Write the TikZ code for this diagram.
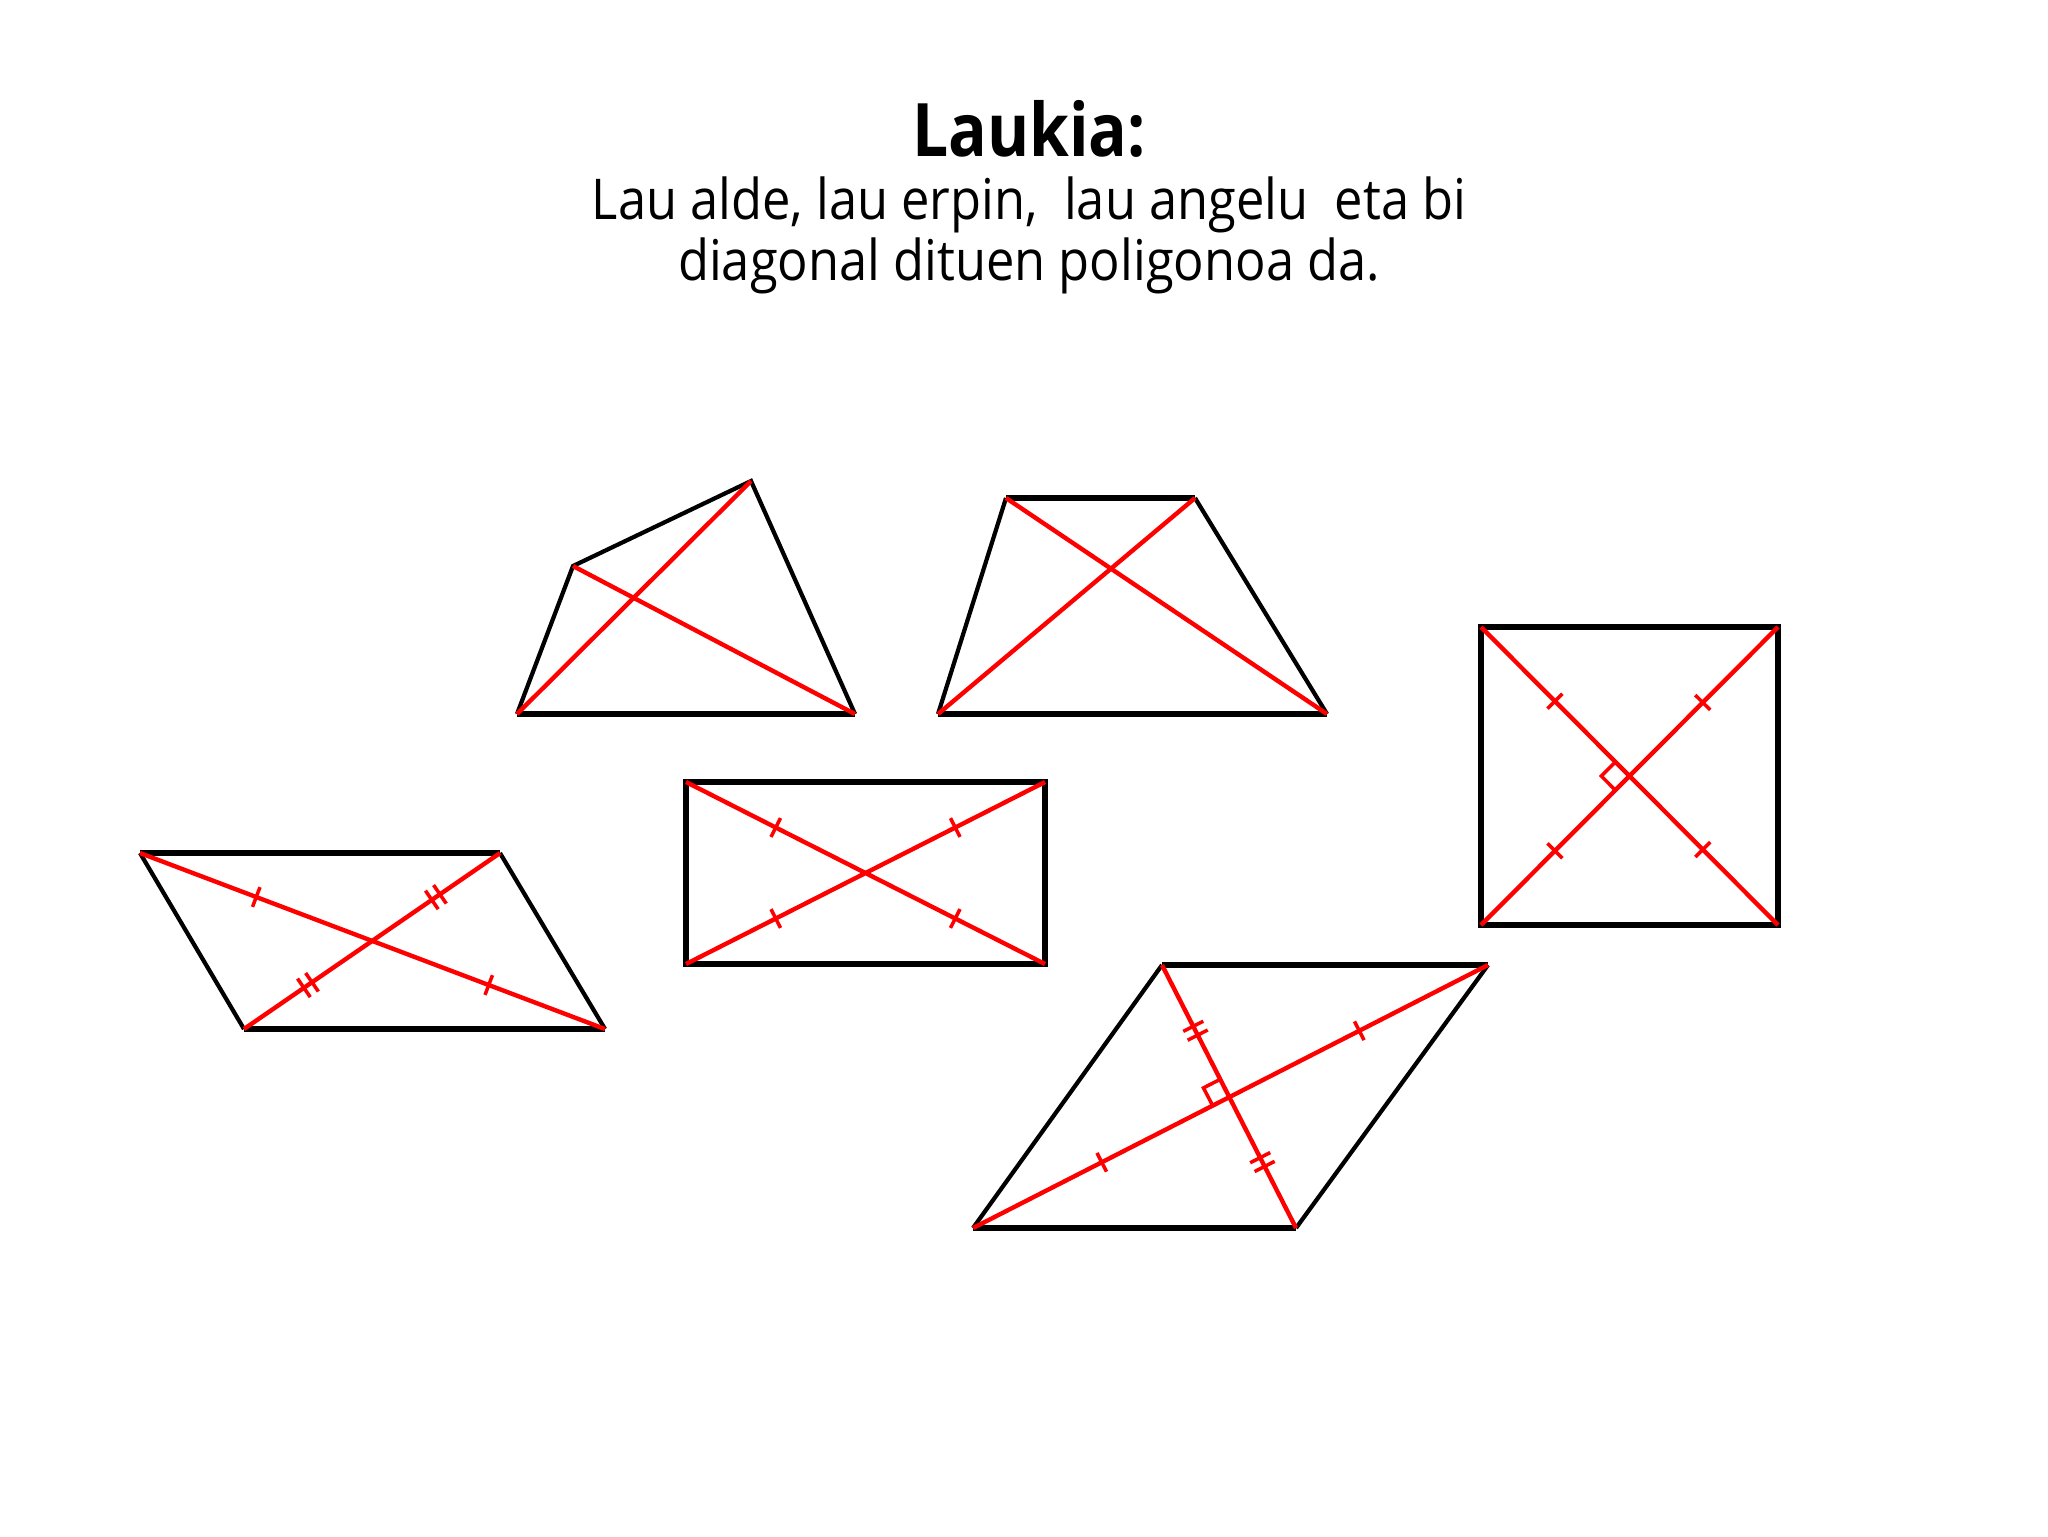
\documentclass[tikz,border=0pt]{standalone}
\usepackage{fontspec}
\setmainfont{Open Sans}
\newfontfamily\qTitleFont[FakeStretch=0.87]{Open Sans}
\newfontfamily\qTextFont[FakeStretch=0.9]{Open Sans}
\usetikzlibrary{calc, decorations.markings}
\tikzstyle{qSide} = [line width=1.2pt, line join=miter, black]
\tikzstyle{qBase} = [line width=1.7pt, black]
\tikzstyle{qDiag} = [line width=1.25pt, red]
\tikzstyle{qOne} = [postaction={decorate}, decoration={markings,
    mark=at position 0.25 with {\draw [red, line width=1pt] (0pt,-3pt) -- (0pt,3pt);},
    mark=at position 0.75 with {\draw [red, line width=1pt] (0pt,-3pt) -- (0pt,3pt);}}]
\tikzstyle{qTwo} = [postaction={decorate}, decoration={markings,
    mark=at position 0.25 with {\draw [red, line width=1pt] (-1.4pt,-3.2pt) -- (-1.4pt,3.2pt) (1.4pt,-3.2pt) -- (1.4pt,3.2pt);},
    mark=at position 0.75 with {\draw [red, line width=1pt] (-1.4pt,-3.2pt) -- (-1.4pt,3.2pt) (1.4pt,-3.2pt) -- (1.4pt,3.2pt);}}]
\tikzstyle{qRight} = [red, line width=1pt]
\tikzstyle{qTitle} = [font=\qTitleFont\bfseries\fontsize{21}{25}\selectfont]
\tikzstyle{qText} = [font=\qTextFont\fontsize{16}{17.4}\selectfont, align=center]

\begin{document}
\begin{tikzpicture}[x=0.1mm, y=-0.1mm]
    \useasboundingbox (0,0) rectangle (2048,1536);

    \node (title) [qTitle] at (1029,129) {Laukia:};
    \node (sub) [qText] at (1029,235) {Lau alde, lau erpin,~ lau angelu~ eta bi\\diagonal dituen poligonoa da.};

    % lauki irregularra
    \coordinate (qA) at (517,714);
    \coordinate (qB) at (573,566);
    \coordinate (qC) at (751,481);
    \coordinate (qD) at (855,714);
    \draw [qSide] (qA) -- (qB) -- (qC) -- (qD);
    \draw [qBase] (qA) -- (qD);
    \draw [qDiag] (qA) -- (qC);
    \draw [qDiag] (qB) -- (qD);

    % trapezioa
    \coordinate (tA) at (938,714);
    \coordinate (tB) at (1006,498);
    \coordinate (tC) at (1195,498);
    \coordinate (tD) at (1327,714);
    \draw [qSide] (tA) -- (tB) (tC) -- (tD);
    \draw [qBase] (tB) -- (tC) (tA) -- (tD);
    \draw [qDiag] (tA) -- (tC);
    \draw [qDiag] (tB) -- (tD);

    % karratua
    \coordinate (sA) at (1481,925);
    \coordinate (sB) at (1481,627);
    \coordinate (sC) at (1778,627);
    \coordinate (sD) at (1778,925);
    \coordinate (sO) at ($(sA)!0.5!(sC)$);
    \draw [qBase] (sA) -- (sB) -- (sC) -- (sD) -- cycle;
    \draw [qDiag, qOne] (sA) -- (sC);
    \draw [qDiag, qOne] (sB) -- (sD);
    \draw [qRight] let \p0 = (sO), \p1 = ($(sO)!2mm!(sB)$), \p2 = ($(sO)!2mm!(sA)$)
        in (\p1) -- (\x1+\x2-\x0, \y1+\y2-\y0) -- (\p2);

    % laukizuzena
    \coordinate (rA) at (686,964);
    \coordinate (rB) at (686,782);
    \coordinate (rC) at (1045,782);
    \coordinate (rD) at (1045,964);
    \draw [qBase] (rA) -- (rB) -- (rC) -- (rD) -- cycle;
    \draw [qDiag, qOne] (rA) -- (rC);
    \draw [qDiag, qOne] (rB) -- (rD);

    % paralelogramoa
    \coordinate (pA) at (244,1029);
    \coordinate (pB) at (140,853);
    \coordinate (pC) at (500,853);
    \coordinate (pD) at (605,1029);
    \draw [qSide] (pA) -- (pB) (pC) -- (pD);
    \draw [qBase] (pB) -- (pC) (pD) -- (pA);
    \draw [qDiag, qTwo] (pA) -- (pC);
    \draw [qDiag, qOne] (pB) -- (pD);

    % erronboa
    \coordinate (eA) at (973,1228);
    \coordinate (eB) at (1162,965);
    \coordinate (eC) at (1488,965);
    \coordinate (eD) at (1296,1228);
    \coordinate (eO) at ($(eA)!0.5!(eC)$);
    \draw [qSide] (eA) -- (eB) (eC) -- (eD);
    \draw [qBase] (eB) -- (eC) (eD) -- (eA);
    \draw [qDiag, qOne] (eA) -- (eC);
    \draw [qDiag, qTwo] (eB) -- (eD);
    \draw [qRight] let \p0 = (eO), \p1 = ($(eO)!2mm!(eB)$), \p2 = ($(eO)!2mm!(eA)$)
        in (\p1) -- (\x1+\x2-\x0, \y1+\y2-\y0) -- (\p2);
\end{tikzpicture}
\end{document}
